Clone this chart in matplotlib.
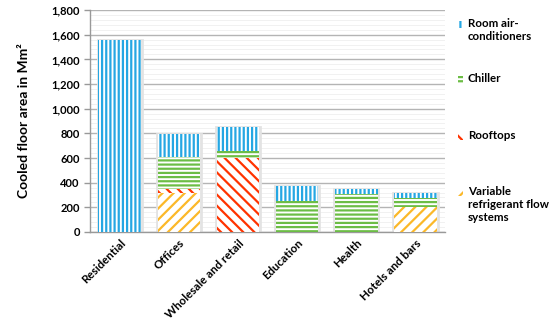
import matplotlib
matplotlib.use("Agg")
import matplotlib.pyplot as plt
import numpy as np
from matplotlib.patches import Rectangle

categories = ["Residential", "Offices", "Wholesale and retail", "Education", "Health", "Hotels and bars"]
vrf = [0, 320, 0, 0, 0, 200]
rooftops = [0, 25, 600, 0, 0, 0]
chiller = [0, 265, 60, 250, 305, 75]
room_ac = [1560, 185, 195, 125, 45, 45]
legend_labels = ["Variable\nrefrigerant flow\nsystems", "Rooftops", "Chiller", "Room air-\nconditioners"]

colors = ["#fbb829", "#ff3300", "#6cbd45", "#25a7e3"]
hatches = ["///", "\\\\\\", "----", "||||"]
values = [vrf, rooftops, chiller, room_ac]

plt.rcParams['font.family'] = ['Lato', 'DejaVu Sans']
plt.rcParams['hatch.linewidth'] = 1.6

W, H = 550, 324
fig = plt.figure(figsize=(5.5, 3.24), dpi=100)
ax = fig.add_axes([0.164, 0.284, 0.645, 0.685])

x = np.arange(len(categories))
w = 0.72
totals = np.sum(values, axis=0)
ax.bar(x, totals, width=w + 0.03, color="none", edgecolor="#e3e3e3", linewidth=2.0, zorder=2)
bottom = np.zeros(len(categories))
for vals, col, hatch in zip(values, colors, hatches):
    vals = np.array(vals, dtype=float)
    ax.bar(x, vals, width=w, bottom=bottom, color="white", edgecolor=col,
           hatch=hatch, linewidth=0, zorder=3)
    bottom += vals

ax.set_xlim(-0.5, 5.5)
ax.set_ylim(0, 1800)
ax.set_yticks(np.arange(0, 1801, 200))
ax.set_yticklabels([f"{v:,}" for v in range(0, 1801, 200)], fontsize=8, fontweight="bold")
ax.set_yticks(np.arange(0, 1801, 40), minor=True)
ax.yaxis.grid(True, which="major", color="#b4b4b4", linewidth=1.0, zorder=0)
ax.yaxis.grid(True, which="minor", color="#efefef", linewidth=0.6, zorder=0)
ax.set_axisbelow(True)
ax.tick_params(axis="y", which="minor", length=0)
ax.tick_params(axis="y", which="major", length=4, color="#999999", width=1)
ax.set_xticks(x)
ax.set_xticklabels(categories, rotation=45, ha="right", rotation_mode="anchor",
                   fontsize=8.3, fontweight="bold")
ax.tick_params(axis="x", length=0, pad=4)
for s in ["top", "right"]:
    ax.spines[s].set_visible(False)
for s in ["left", "bottom"]:
    ax.spines[s].set_color("#999999")
    ax.spines[s].set_linewidth(1.0)

ax.set_ylabel("Cooled floor area in Mm²", fontsize=10, fontweight="bold")
ax.yaxis.set_label_coords(-0.17, 0.5)

# manual legend (top to bottom)
leg_items = list(zip(legend_labels, colors, hatches))[::-1]
first_line_y = [25, 80, 137, 193]
for (lab, col, hatch), yy in zip(leg_items, first_line_y):
    fig.text(468 / W, 1 - (yy - 7) / H, lab, fontsize=8.3, fontweight="bold",
             va="top", ha="left", linespacing=1.2)
    fig.add_artist(Rectangle((458 / W, 1 - (yy + 3) / H), 5 / W, 7 / H,
                             transform=fig.transFigure, facecolor="white",
                             edgecolor=col, hatch=hatch, linewidth=0))

fig.savefig("out.png", dpi=100)
